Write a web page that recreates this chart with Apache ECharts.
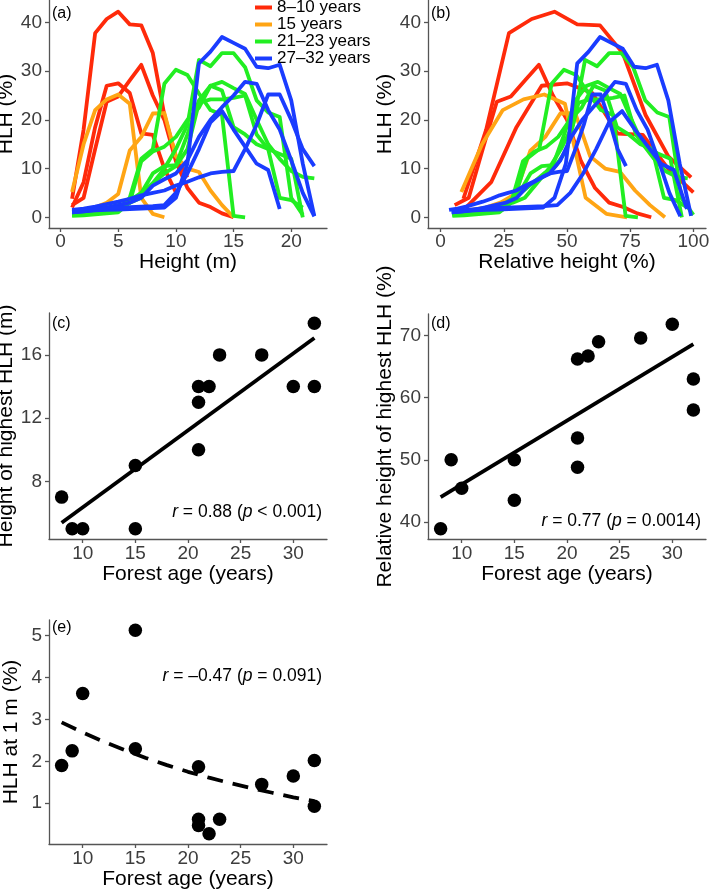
<!DOCTYPE html>
<html><head><meta charset="utf-8">
<script src="https://cdn.jsdelivr.net/npm/echarts@6/dist/echarts.min.js"></script>
<style>html,body{margin:0;padding:0;background:#fff}#c{width:709px;height:890px}</style>
</head><body><div id="c"></div>
<script>
// ---------- DATA ----------
const groupNames = ['8–10 years', '15 years', '21–23 years', '27–32 years'];
const groupColors = ['#ff2a0a', '#ffa514', '#22ee22', '#1a3cff'];

// HLH (%) for each stand at heights 1, 2, 3 ... m
const hlhR1 = [3.8, 18, 37.8, 40.7, 42.2, 39.6, 39.4, 33.7, 21, 12.5, 8.2];
const hlhR2 = [2.5, 4, 14, 23.7, 24.8, 28.1, 31.3, 25, 20, 11.5, 6, 3, 2.1, 0.8, 0];
const hlhR3 = [2, 7.2, 18.5, 27, 27.5, 25.5, 17.2, 16.9, 10, 5.1];
const hlhO1 = [5.2, 15, 22, 24.2, 25.2, 23.3, 4, 0.7, 0];
const hlhO2 = [1.2, 1.5, 2, 3, 4.8, 13.7, 16.5, 21.3, 21.4, 12.5, 10, 9.3, 5.5, 2.5, 0];
const hlhG1 = [0.5, 0.6, 0.8, 1.0, 1.5, 4, 12, 14, 27.4, 30.3, 29.2, 25.4, 22, 21, 0.3, 0];
const hlhG2 = [1, 1.2, 1.5, 2, 2.5, 3, 4, 7, 10, 14, 19, 32.3, 31, 33.7, 33.7, 30.8, 24, 21.5, 20.6, 4, 0.5];
const hlhG3 = [0.8, 1, 1.2, 1.5, 2, 3, 5, 9, 10.5, 10.7, 17, 24, 27, 27.8, 26.5, 25.3, 20, 15, 12, 9.5, 8.3, 8];
const hlhG4 = [0.3, 0.4, 0.6, 0.8, 1.0, 3, 11.5, 13.5, 14.5, 16.5, 20, 22.5, 27, 26, 18.5, 17, 15, 14, 4, 3.5, 2];
const hlhG5 = [0.5, 0.7, 1, 1.5, 2, 3.5, 5, 7, 9, 10.5, 14, 23.5, 24.2, 24.2, 24.5, 25, 17, 14, 13, 12, 0];
const hlhB1 = [1.0, 1.2, 1.4, 1.5, 1.6, 1.7, 1.8, 1.9, 2, 4, 11, 31.6, 34, 37, 35.8, 34.6, 30.9, 30.6, 31.3, 24, 11, 0.3];
const hlhB2 = [1.0, 1.2, 1.5, 2, 2.5, 3, 4, 6.5, 7.8, 9, 11.7, 16.5, 20, 22.6, 25, 27.8, 27.4, 22, 18, 11.7, 5, 0.2];
const hlhB3 = [1.5, 1.8, 2.2, 2.7, 3.2, 3.8, 4.5, 5, 5.5, 6.5, 7.3, 8.2, 9, 9.3, 9.5, 14, 19, 25.2, 25.2, 20, 14, 10.5];
const hlhB4 = [1.3, 1.5, 1.7, 1.9, 2, 2.1, 2.2, 2.3, 2.5, 5, 9, 14, 19.5, 21.8, 18, 14.5, 11, 9.7, 1.7];

const hlhCurves = [hlhR1, hlhR2, hlhR3, hlhO1, hlhO2, hlhG1, hlhG2, hlhG3, hlhG4, hlhG5, hlhB1, hlhB2, hlhB3, hlhB4];
const curveGroup = [0, 0, 0, 1, 1, 2, 2, 2, 2, 2, 3, 3, 3, 3];
// canopy height (m) of each stand, used for relative height
const canopyHeight = [11.1, 18, 10, 12.2, 16.9, 20.5, 21, 22.5, 21.5, 22, 22.2, 23.2, 30, 19.5];

const forestAge = [8, 9, 10, 15, 15, 21, 21, 21, 22, 23, 27, 30, 32, 32];
const heightHighestHLH = [7, 5, 5, 9, 5, 14, 13, 10, 14, 16, 16, 14, 18, 14];
const relHeightHighestHLH = [38.9, 50, 45.4, 50, 43.5, 66.2, 53.5, 48.8, 66.7, 69, 69.6, 71.8, 63, 58];
const hlhAt1m = [1.9, 2.25, 3.62, 5.13, 2.3, 1.87, 0.62, 0.47, 0.27, 0.62, 1.45, 1.65, 2.02, 0.93];

const fitAgeE = [8, 10, 12, 14, 16, 18, 20, 22, 24, 26, 28, 30, 32];
const fitHlhE = [2.93, 2.69, 2.47, 2.27, 2.08, 1.91, 1.75, 1.61, 1.48, 1.36, 1.25, 1.14, 1.05];

const ticksHeight = [0, 5, 10, 15, 20];
const ticksRel = [0, 25, 50, 75, 100];
const ticksHLH = [0, 10, 20, 30, 40];
const ticksAge = [10, 15, 20, 25, 30];
const ticksPeakH = [8, 12, 16];
const ticksPeakRel = [40, 50, 60, 70];
const ticks1m = [1, 2, 3, 4, 5];

// ---------- CHART ----------
const FF = "'Liberation Sans', Arial, sans-serif";
const AX = '#555';
const chart = echarts.init(document.getElementById('c'));

function xAx(grid, min, max, ticks, name, gap, margin) {
  return {
    type: 'value', gridIndex: grid, min: min, max: max,
    name: name, nameLocation: 'middle', nameGap: gap,
    nameTextStyle: { fontSize: 21, color: '#000', fontFamily: FF },
    axisLine: { show: true, onZero: false, lineStyle: { color: AX, width: 1.3 } },
    axisTick: { show: true, length: 4, customValues: ticks, lineStyle: { color: AX, width: 1.3 } },
    axisLabel: { customValues: ticks, margin: margin, fontSize: 19, color: '#3d3d3d', fontFamily: FF },
    splitLine: { show: false }
  };
}
function yAx(grid, min, max, ticks, name, gap) {
  return xAx(grid, min, max, ticks, name, gap, 7);
}

const grids = [
  { left: 49, top: 0, width: 278, height: 228 },
  { left: 428, top: 0, width: 278, height: 228 },
  { left: 49, top: 313, width: 278, height: 226 },
  { left: 428, top: 314, width: 278, height: 225 },
  { left: 49, top: 620, width: 278, height: 224 }
].map(g => Object.assign({ containLabel: false, outerBoundsMode: 'none', show: false }, g));

const series = [];
hlhCurves.forEach((vals, i) => {
  const g = curveGroup[i];
  const common = {
    type: 'line', name: groupNames[g], showSymbol: false, symbol: 'none',
    lineStyle: { color: groupColors[g], width: 3.8, join: 'round' },
    itemStyle: { color: groupColors[g] }, emphasis: { disabled: true }, z: 2 + g
  };
  series.push(Object.assign({}, common, {
    xAxisIndex: 0, yAxisIndex: 0,
    data: vals.map((v, j) => [j + 1, v])
  }));
  series.push(Object.assign({}, common, {
    xAxisIndex: 1, yAxisIndex: 1,
    data: vals.map((v, j) => [(j + 1) / canopyHeight[i] * 100, v])
  }));
});

function linFit(x, y) {
  const n = x.length;
  const mx = x.reduce((s, v) => s + v, 0) / n, my = y.reduce((s, v) => s + v, 0) / n;
  let sxy = 0, sxx = 0;
  for (let k = 0; k < n; k++) { sxy += (x[k] - mx) * (y[k] - my); sxx += (x[k] - mx) ** 2; }
  const b = sxy / sxx;
  const lo = Math.min(...x), hi = Math.max(...x);
  return [[lo, my + b * (lo - mx)], [hi, my + b * (hi - mx)]];
}

const scat = (idx, ys) => ({
  type: 'scatter', xAxisIndex: idx, yAxisIndex: idx, symbolSize: 13.5,
  itemStyle: { color: '#000', opacity: 1 }, emphasis: { disabled: true }, z: 5,
  data: forestAge.map((a, k) => [a, ys[k]])
});
series.push({ type: 'line', xAxisIndex: 2, yAxisIndex: 2, showSymbol: false, symbol: 'none',
  lineStyle: { color: '#000', width: 3.8 }, data: linFit(forestAge, heightHighestHLH), z: 4 });
series.push(scat(2, heightHighestHLH));
series.push({ type: 'line', xAxisIndex: 3, yAxisIndex: 3, showSymbol: false, symbol: 'none',
  lineStyle: { color: '#000', width: 3.8 }, data: linFit(forestAge, relHeightHighestHLH), z: 4 });
series.push(scat(3, relHeightHighestHLH));
series.push({ type: 'line', xAxisIndex: 4, yAxisIndex: 4, showSymbol: false, symbol: 'none', smooth: false,
  lineStyle: { color: '#000', width: 3.8, type: [16, 10] }, data: fitAgeE.map((a, k) => [a, fitHlhE[k]]), z: 4 });
series.push(scat(4, hlhAt1m));

const rich = { i: { fontStyle: 'italic', fontSize: 17.5, fontFamily: FF, color: '#000' } };
const ann = (text, right, top) => ({
  text: text, right: right, top: top, padding: 0,
  textStyle: { fontSize: 17.5, fontWeight: 'normal', fontFamily: FF, color: '#000', rich: rich }
});
const lab = (text, left, top) => ({
  text: text, left: left, top: top, padding: 0,
  textStyle: { fontSize: 16, fontWeight: 'normal', fontFamily: FF, color: '#000' }
});

chart.setOption({
  animation: false,
  backgroundColor: '#fff',
  grid: grids,
  xAxis: [
    xAx(0, -1, 23.1, ticksHeight, 'Height (m)', 22, 4),
    xAx(1, -5, 105, ticksRel, 'Relative height (%)', 22, 4),
    xAx(2, 6.8, 33.2, ticksAge, 'Forest age (years)', 25, 5),
    xAx(3, 6.8, 33.2, ticksAge, 'Forest age (years)', 25, 5),
    xAx(4, 6.8, 33.2, ticksAge, 'Forest age (years)', 25, 5)
  ],
  yAxis: [
    yAx(0, -2.2, 44.6, ticksHLH, 'HLH (%)', 27),
    yAx(1, -2.2, 44.6, ticksHLH, 'HLH (%)', 27),
    yAx(2, 4.35, 18.65, ticksPeakH, 'Height of highest HLH (m)', 28),
    yAx(3, 37.25, 73.45, ticksPeakRel, 'Relative height of highest HLH (%)', 27),
    yAx(4, 0.027, 5.373, ticks1m, 'HLH at 1 m (%)', 27)
  ],
  legend: {
    data: groupNames, orient: 'vertical', left: 255, top: -1, padding: 0, itemGap: 0,
    icon: 'rect', itemWidth: 17, itemHeight: 4, selectedMode: false,
    textStyle: { fontSize: 17, lineHeight: 17, color: '#000', fontFamily: FF }
  },
  title: [
    lab('(a)', 52, 6), lab('(b)', 431, 6), lab('(c)', 52, 316), lab('(d)', 431, 316), lab('(e)', 52, 620),
    ann('{i|r} = 0.88 ({i|p} < 0.001)', 387, 503),
    ann('{i|r} = 0.77 ({i|p} = 0.0014)', 8, 512),
    ann('{i|r} = –0.47 ({i|p} = 0.091)', 387, 667)
  ],
  series: series
});
</script></body></html>
